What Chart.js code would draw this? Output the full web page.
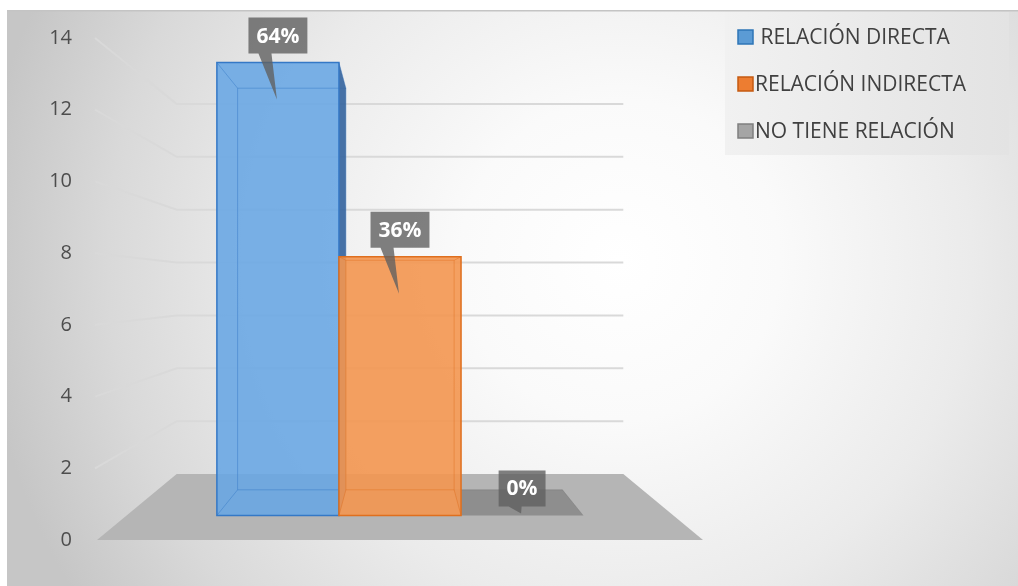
<!DOCTYPE html>
<html lang="es">
<head>
<meta charset="utf-8">
<title>Relación</title>
<script src="https://cdn.jsdelivr.net/npm/chart.js@4.4.1/dist/chart.umd.min.js"></script>
<style>
  html, body { margin: 0; padding: 0; background: #ffffff; }
  #grafico { display: block; }
</style>
</head>
<body>
<canvas id="grafico" width="1018" height="586"></canvas>
<script>
const categorias = [""];
const series = [" RELACIÓN DIRECTA", "RELACIÓN INDIRECTA", "NO TIENE RELACIÓN"];
const valores = [14, 8, 0];
const ticksY = [0, 2, 4, 6, 8, 10, 12, 14];

const relleno = ["rgba(104,166,228,0.88)", "rgba(243,150,80,0.9)", "rgba(110,110,110,0.55)"];
const borde = ["#3478c6", "#df6f1e", "rgba(110,110,110,0.4)"];
const lateral = ["rgba(55,102,160,0.92)", "rgba(200,95,25,0.9)", "rgba(90,90,90,0.6)"];
const cajaLeyenda = ["#5b9bd5", "#ed7d31", "#a5a5a5"];
const bordeLeyenda = ["#2e75b6", "#c55a11", "#7f7f7f"];

// profundidad de cada plano respecto al plano del eje (1 = delante)
const PROF_FONDO = 0.737;
const PROF_BARRA_FRENTE = 0.902;
const PROF_BARRA_FONDO = 0.80;

const total = valores.reduce((a, b) => a + b, 0);

function proyectar(chart, x, y, k) {
  const a = chart.chartArea;
  const cx = (a.left + a.right) / 2;
  const cy = (a.top + a.bottom) / 2;
  return [cx + k * (x - cx), cy + k * (y - cy)];
}

function poligono(ctx, puntos) {
  ctx.beginPath();
  ctx.moveTo(puntos[0][0], puntos[0][1]);
  for (let i = 1; i < puntos.length; i++) ctx.lineTo(puntos[i][0], puntos[i][1]);
  ctx.closePath();
}

function dibujarFondo(chart) {
  const ctx = chart.ctx;
  const { width, height } = chart;
  ctx.save();
  ctx.fillStyle = "#ffffff";
  ctx.fillRect(0, 0, width, height);
  const g = ctx.createRadialGradient(620, 260, 0, 620, 260, 640);
  g.addColorStop(0, "#ffffff");
  g.addColorStop(0.25, "#fafafa");
  g.addColorStop(0.55, "#ebebeb");
  g.addColorStop(0.8, "#d9d9d9");
  g.addColorStop(1, "#c6c6c6");
  ctx.fillStyle = g;
  ctx.fillRect(7, 11, width - 7, height - 11);
  ctx.fillStyle = "#c4c4c4";
  ctx.fillRect(7, 10, width - 7, 1.5);
  ctx.restore();
}

function dibujarParedes(chart) {
  const ctx = chart.ctx;
  const a = chart.chartArea;
  const ey = chart.scales.y;
  ctx.save();
  ctx.strokeStyle = "#d9d9d9";
  ctx.lineWidth = 2;
  ey.ticks.forEach((t) => {
    if (t.value === 0) return;
    const y = ey.getPixelForValue(t.value);
    const p1 = proyectar(chart, a.left, y, PROF_FONDO);
    const p2 = proyectar(chart, a.right, y, PROF_FONDO);
    ctx.beginPath();
    ctx.moveTo(a.left - 2, y);
    ctx.lineTo(p1[0], p1[1]);
    ctx.lineTo(p2[0], p2[1]);
    ctx.stroke();
  });

  // piso
  const y0 = ey.getPixelForValue(0);
  poligono(ctx, [
    [a.left, y0],
    [a.right, y0],
    proyectar(chart, a.right, y0, PROF_FONDO),
    proyectar(chart, a.left, y0, PROF_FONDO)
  ]);
  ctx.fillStyle = "#b5b5b5";
  ctx.fill();
  ctx.restore();
}

function dibujarBarra(chart, i) {
  const ctx = chart.ctx;
  const a = chart.chartArea;
  const el = chart.getDatasetMeta(i).data[0];
  const { x, y, base, width } = el.getProps(["x", "y", "base", "width"], true);
  const izq = x - width / 2;
  const der = x + width / 2;
  const P = (px, py, k) => proyectar(chart, px, py, k);
  const kf = PROF_BARRA_FRENTE;
  const kb = PROF_BARRA_FONDO;
  const f = [P(izq, y, kf), P(der, y, kf), P(der, base, kf), P(izq, base, kf)];
  const b = [P(izq, y, kb), P(der, y, kb), P(der, base, kb), P(izq, base, kb)];
  const cx = (a.left + a.right) / 2;
  const cy = (a.top + a.bottom) / 2;

  ctx.save();
  // cara superior, sólo se ve si la barra queda por debajo del punto de fuga
  if (y > cy) {
    poligono(ctx, [f[0], f[1], b[1], b[0]]);
    ctx.fillStyle = relleno[i];
    ctx.fill();
  }

  if (base - y > 0.5) {
    poligono(ctx, f);
    ctx.fillStyle = relleno[i];
    ctx.fill();
  }

  // aristas interiores (la barra es transparente)
  ctx.strokeStyle = borde[i];
  ctx.globalAlpha = 0.45;
  ctx.lineWidth = 1;
  poligono(ctx, b);
  ctx.stroke();
  for (let j = 0; j < 4; j++) {
    ctx.beginPath();
    ctx.moveTo(f[j][0], f[j][1]);
    ctx.lineTo(b[j][0], b[j][1]);
    ctx.stroke();
  }
  ctx.globalAlpha = 1;

  // cara lateral visible
  if (der < cx && b[1][0] > f[1][0]) {
    poligono(ctx, [f[1], b[1], b[2], f[2]]);
    ctx.fillStyle = lateral[i];
    ctx.fill();
  } else if (izq > cx && b[0][0] < f[0][0]) {
    poligono(ctx, [f[0], b[0], b[3], f[3]]);
    ctx.fillStyle = lateral[i];
    ctx.fill();
  }

  if (base - y > 0.5) {
    poligono(ctx, f);
    ctx.strokeStyle = borde[i];
    ctx.lineWidth = 1.5;
    ctx.stroke();
  }
  ctx.restore();
}

function dibujarEtiqueta(chart, i) {
  const ctx = chart.ctx;
  const el = chart.getDatasetMeta(i).data[0];
  const { x, y, base } = el.getProps(["x", "y", "base"], true);
  const arriba = proyectar(chart, x, y, PROF_BARRA_FRENTE);
  const abajo = proyectar(chart, x, base, PROF_BARRA_FRENTE);
  const texto = Math.round((valores[i] / total) * 100) + "%";

  ctx.save();
  ctx.font = "bold 21px 'Open Sans'";
  const w = ctx.measureText(texto).width + 16;
  const h = 36;
  const cx = arriba[0];
  const cy = arriba[1] - 27;
  const l = cx - w / 2;
  const t = cy - h / 2;
  const puntaX = cx - 1;
  const puntaY = Math.min(arriba[1] + 37, abajo[1] - 2);

  ctx.beginPath();
  ctx.moveTo(l, t);
  ctx.lineTo(l + w, t);
  ctx.lineTo(l + w, t + h);
  ctx.lineTo(l + 23, t + h);
  ctx.lineTo(puntaX, puntaY);
  ctx.lineTo(l + 10, t + h);
  ctx.lineTo(l, t + h);
  ctx.closePath();
  ctx.fillStyle = "rgba(96,96,96,0.8)";
  ctx.fill();

  ctx.fillStyle = "#ffffff";
  ctx.textAlign = "center";
  ctx.textBaseline = "middle";
  ctx.fillText(texto, cx, cy + 1);
  ctx.restore();
}

function dibujarLeyenda(chart) {
  const ctx = chart.ctx;
  ctx.save();
  const g = ctx.createLinearGradient(725, 0, 1009, 0);
  g.addColorStop(0, "#f1f1f1");
  g.addColorStop(1, "#e3e3e3");
  ctx.fillStyle = g;
  ctx.fillRect(725, 12, 284, 143);

  ctx.font = "21px 'Open Sans'";
  ctx.textBaseline = "middle";
  ctx.textAlign = "left";
  series.forEach((nombre, i) => {
    const yc = 37 + i * 47;
    ctx.fillStyle = cajaLeyenda[i];
    ctx.fillRect(738, yc - 7, 15, 14);
    ctx.strokeStyle = bordeLeyenda[i];
    ctx.lineWidth = 1.5;
    ctx.strokeRect(738, yc - 7, 15, 14);
    ctx.fillStyle = "#404040";
    ctx.fillText(nombre, 755, yc + 1);
  });
  ctx.restore();
}

const escena3d = {
  id: "escena3d",
  beforeDraw(chart) {
    dibujarFondo(chart);
    dibujarParedes(chart);
  },
  beforeDatasetsDraw(chart) {
    [2, 0, 1].forEach((i) => dibujarBarra(chart, i));
    return false;
  },
  afterDraw(chart) {
    valores.forEach((v, i) => dibujarEtiqueta(chart, i));
    dibujarLeyenda(chart);
  }
};

function grafikoCrear() {
  const canvas = document.getElementById("grafico");

  new Chart(canvas, {
    type: "bar",
    data: {
      labels: categorias,
      datasets: series.map((nombre, i) => ({
        label: nombre,
        data: [valores[i]],
        backgroundColor: relleno[i],
        borderColor: borde[i],
        borderWidth: 0
      }))
    },
    options: {
      responsive: false,
      animation: false,
      devicePixelRatio: 1,
      layout: {
        padding: { left: 0, right: 315, top: 38, bottom: 46 }
      },
      datasets: {
        bar: {
          categoryPercentage: 0.67,
          barPercentage: 1
        }
      },
      plugins: {
        legend: { display: false },
        tooltip: { enabled: false }
      },
      scales: {
        x: {
          display: false
        },
        y: {
          min: ticksY[0],
          max: ticksY[ticksY.length - 1],
          afterFit(scale) {
            scale.width = 97;
          },
          afterBuildTicks(scale) {
            scale.ticks = ticksY.map((v) => ({ value: v }));
          },
          grid: { display: false, drawTicks: false },
          border: { display: false },
          ticks: {
            padding: 25,
            color: "#4d4d4d",
            font: { family: "'Open Sans'", size: 20 }
          }
        }
      }
    },
    plugins: [escena3d]
  });
}

grafikoCrear();
</script>
</body>
</html>
